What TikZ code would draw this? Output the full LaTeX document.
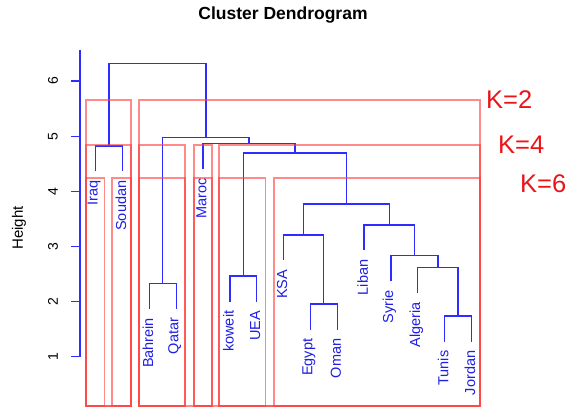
\documentclass[tikz,border=0pt]{standalone}
\usepackage{fontspec}
\setmainfont{Liberation Sans}
\definecolor{dblue}{RGB}{45,45,255}
\definecolor{lblue}{RGB}{30,30,230}
\definecolor{rbox}{RGB}{255,60,60}
\definecolor{kred}{RGB}{235,20,25}
\tikzset{
  link/.style={draw=dblue,line width=1.3pt},
  rbx/.style={draw=rbox,line width=1.6pt,opacity=0.6},
  leaflab/.style={rotate=90,anchor=east,inner sep=0pt,text=lblue,font=\fontsize{14.5}{16}\selectfont},
  ticklab/.style={rotate=90,inner sep=0pt,font=\fontsize{14}{16}\selectfont},
  klab/.style={anchor=west,inner sep=0pt,text=kred,font=\fontsize{25.5}{28}\selectfont}
}
\begin{document}
\begin{tikzpicture}[x=1pt,y=-1pt]
\useasboundingbox (0,0) rectangle (572,411);
% title and axis
\node[font=\bfseries\fontsize{17.5}{20}\selectfont] (title) at (283,15) {Cluster Dendrogram};
\node[rotate=90,font=\fontsize{15}{17}\selectfont] (ylab) at (19,228) {Height};
\coordinate (atop) at (80,50);
\coordinate (abot) at (80,356.5);
\draw[link] (atop) -- (abot);
\foreach \h/\yy in {1/356.5,2/301.5,3/246.5,4/191.5,5/136.5,6/81}{
  \coordinate (t\h) at (80,\yy);
  \coordinate (tl\h) at (71,\yy);
  \draw[link] (t\h) -- (tl\h);
  \node[ticklab] (n\h) at (53,\yy) {\h};
}
% leaf ends
\coordinate (Iraq) at (95.7,171.5);
\coordinate (Soudan) at (122.54,171.5);
\coordinate (Bahrein) at (149.38,308.8);
\coordinate (Qatar) at (176.22,308.8);
\coordinate (Maroc) at (203.06,169);
\coordinate (koweit) at (229.9,301.5);
\coordinate (UEA) at (256.74,301.5);
\coordinate (KSA) at (283.58,260.5);
\coordinate (Egypt) at (310.42,329.5);
\coordinate (Oman) at (337.26,329.5);
\coordinate (Liban) at (364.1,250.5);
\coordinate (Syrie) at (390.94,281.2);
\coordinate (Algeria) at (417.78,292.8);
\coordinate (Tunis) at (444.62,341.5);
\coordinate (Jordan) at (471.46,341.5);
% merges
\coordinate (mA) at (109.12,146);
\coordinate (mB) at (162.8,283.3);
\coordinate (mC) at (243.32,276);
\coordinate (mD) at (323.84,304);
\coordinate (mE) at (303.71,235);
\coordinate (mF) at (458.04,316);
\coordinate (mG) at (437.91,267.3);
\coordinate (mH) at (414.43,255.7);
\coordinate (mI) at (389.26,225);
\coordinate (mJ) at (346.49,204);
\coordinate (mK) at (294.9,153);
\coordinate (mL) at (248.98,143.5);
\coordinate (mM) at (205.89,137.3);
\coordinate (mR) at (157.5,63.3);
\foreach \p/\a/\b in {mA/Iraq/Soudan,mB/Bahrein/Qatar,mC/koweit/UEA,mD/Egypt/Oman,
  mE/KSA/mD,mF/Tunis/Jordan,mG/Algeria/mF,mH/Syrie/mG,mI/Liban/mH,mJ/mE/mI,
  mK/mC/mJ,mL/Maroc/mK,mM/mB/mL,mR/mA/mM}{
  \draw[link] (\a) |- (\p) -| (\b);
}
% leaf labels
\foreach \n in {Iraq,Soudan,Bahrein,Qatar,Maroc,koweit,UEA,KSA,Egypt,Oman,Liban,Syrie,Algeria,Tunis,Jordan}{
  \node[leaflab] (l\n) at ([shift={(-1.5,9)}]\n) {\n};
}
% cluster rectangles
\foreach \l/\r/\t in {86/131/100,139/480/100,
  86/131/145.3,139/185/145.3,194/212/145.3,219/480/145.3,
  86/104.3/178,112/131/178,139/185/178,194/212/178,219/265.5/178,274/480/178}{
  \draw[rbx] (\l,406) rectangle (\r,\t);
}
\node[klab] (k2) at (486,100) {K=2};
\node[klab] (k4) at (498,145) {K=4};
\node[klab] (k6) at (520,184) {K=6};
\end{tikzpicture}
\end{document}
